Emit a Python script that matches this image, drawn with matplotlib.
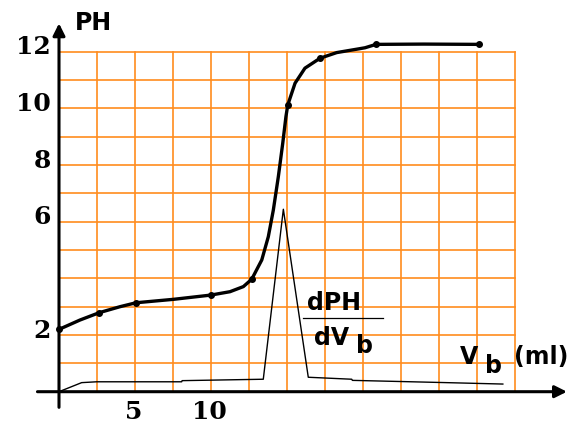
import matplotlib.pyplot as plt

# titration curve: base volume (ml) vs pH
vb = [0, 1.38, 2.65, 4.01, 5.07, 7.52, 9.98, 11.25, 12.13, 12.68, 13.0, 13.34,
      13.77, 14.1, 14.43, 14.72, 14.93, 15.05, 15.53, 16.18, 17.17, 18.27, 19.59,
      20.13, 20.86, 24, 27.6]
ph = [2.2, 2.53, 2.79, 3.0, 3.14, 3.26, 3.41, 3.53, 3.71, 3.97, 4.3, 4.65,
      5.47, 6.41, 7.59, 8.77, 9.71, 10.12, 10.89, 11.42, 11.77, 11.97, 12.09,
      12.14, 12.26, 12.27, 12.26]

# measured points (dots)
vb_pts = [0, 2.65, 5.07, 9.98, 12.68, 15.05, 17.17, 20.86, 27.6]
ph_pts = [2.2, 2.79, 3.14, 3.41, 3.97, 10.12, 11.77, 12.26, 12.26]

# derivative dPH/dVb
vb_d = [0, 1.49, 2.48, 8.07, 8.1, 13.44, 14.76, 16.4, 19.26, 19.3, 23.2, 25.5, 29.2]
d_ph = [0, 0.32, 0.35, 0.35, 0.39, 0.44, 6.44, 0.51, 0.44, 0.40, 0.35, 0.32, 0.27]

y_ticks = [2, 6, 8, 10, 12]
x_ticks = [5, 10]

orange = '#ff8c1e'

fig = plt.figure(figsize=(5.76, 4.23), dpi=100)
ax = fig.add_axes([0, 0, 1, 1])
ax.set_xlim(-59 / 15.2, (576 - 59) / 15.2)
ax.set_ylim((391.7 - 423) / 28.33, 391.7 / 28.33)
ax.axis('off')

# orange grid paper: 12 x 12 cells
for i in range(13):
    ax.plot([i * 2.5, i * 2.5], [0, 12], color=orange, lw=1.2, zorder=1)
    ax.plot([0, 30], [i, i], color=orange, lw=1.2, zorder=1)

# axes with arrows
ax.annotate('', xy=(33.6, 0), xytext=(-1.6, 0),
            arrowprops=dict(arrowstyle='-|>', color='black', lw=2.2, mutation_scale=18), zorder=3)
ax.annotate('', xy=(0, 13.1), xytext=(0, -0.65),
            arrowprops=dict(arrowstyle='-|>', color='black', lw=2.2, mutation_scale=18), zorder=3)

# curves
ax.plot(vb, ph, color='black', lw=2.4, zorder=4, solid_joinstyle='round')
ax.plot(vb_pts, ph_pts, 'o', color='black', ms=4, zorder=5)
ax.plot(vb_d, d_ph, color='black', lw=1.0, zorder=4)

# tick labels
for t in y_ticks:
    ax.text(-0.55, t + 0.15, str(t), ha='right', va='center', fontsize=18,
            family='DejaVu Serif', fontweight='bold')
for t in x_ticks:
    ax.text(t - 0.1, -0.72, str(t), ha='center', va='center', fontsize=18,
            family='DejaVu Serif', fontweight='bold')

# labels
ax.text(1.05, 13.0, 'PH', ha='left', va='center', fontsize=17, fontweight='bold')
ax.text(16.3, 3.12, 'dPH', ha='left', va='center', fontsize=17, fontweight='bold')
ax.plot([16.05, 21.3], [2.6, 2.6], color='black', lw=0.9, zorder=4)
ax.text(16.8, 1.9, 'dV', ha='left', va='center', fontsize=17, fontweight='bold')
ax.text(19.55, 1.62, 'b', ha='left', va='center', fontsize=17, fontweight='bold')
ax.text(26.4, 1.22, 'V', ha='left', va='center', fontsize=17, fontweight='bold')
ax.text(28.0, 0.92, 'b', ha='left', va='center', fontsize=17, fontweight='bold')
ax.text(29.95, 1.22, '(ml)', ha='left', va='center', fontsize=17, fontweight='bold')

fig.savefig('out.png', dpi=100)
